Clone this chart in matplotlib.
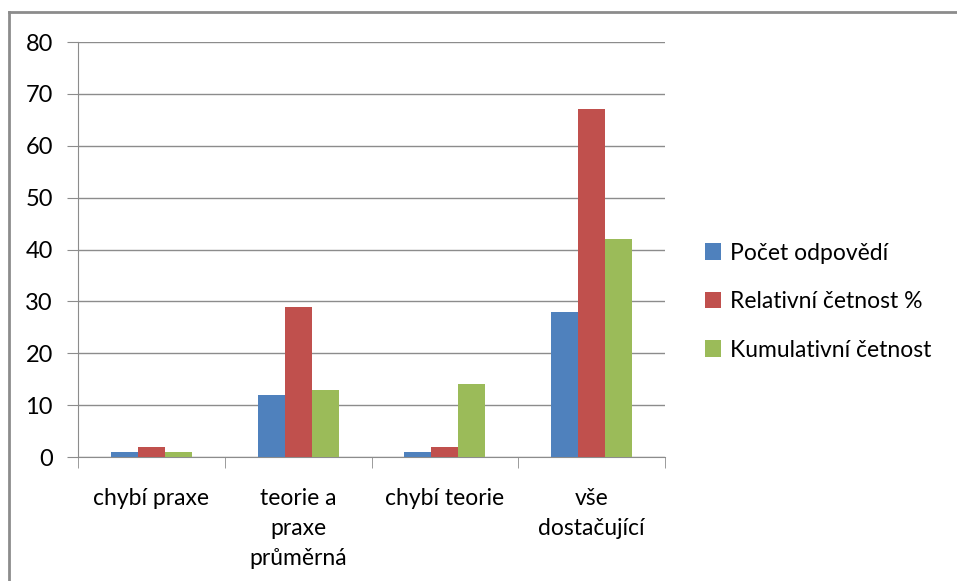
import matplotlib.pyplot as plt
import numpy as np
from matplotlib.lines import Line2D

plt.rcParams['font.family'] = ['Lato', 'DejaVu Sans']

categories = ["chybí praxe", "teorie a\npraxe\nprůměrná", "chybí teorie", "vše\ndostačující"]
series_names = ["Počet odpovědí", "Relativní četnost %", "Kumulativní četnost"]
pocet = [1, 12, 1, 28]
relativni = [2, 29, 2, 67]
kumulativni = [1, 13, 14, 42]
colors = ["#4F81BD", "#C0504D", "#9BBB59"]

fig = plt.figure(figsize=(9.57, 5.81), dpi=100)
# outer border (only top and left are visible in the original crop)
fig.lines.append(Line2D([9 / 957, 9 / 957], [0, 1 - 12 / 581], transform=fig.transFigure,
                        color="#8c8c8c", linewidth=2))
fig.lines.append(Line2D([9 / 957, 1], [1 - 12 / 581, 1 - 12 / 581], transform=fig.transFigure,
                        color="#8c8c8c", linewidth=2))
ax = fig.add_axes([0.0815, 0.2134, 0.6135, 0.7143])

x = np.arange(len(categories))
w = 0.184
for i, (vals, name) in enumerate(zip([pocet, relativni, kumulativni], series_names)):
    ax.bar(x + (i - 1) * w, vals, width=w, color=colors[i], label=name, zorder=3)

ax.set_xlim(-0.5, len(categories) - 0.5)
ax.set_ylim(0, 80)
ax.set_yticks(range(0, 81, 10))
ax.yaxis.grid(True, color="#8c8c8c", linewidth=1, zorder=0)
for s in ["top", "right"]:
    ax.spines[s].set_visible(False)
for s in ["left", "bottom"]:
    ax.spines[s].set_color("#8c8c8c")

ax.set_xticks(x)
ax.set_xticklabels(categories, fontsize=16.5, linespacing=1.55, va="top")
ax.tick_params(axis="x", length=0, pad=22)
ax.set_xticks(np.arange(-0.5, len(categories), 1), minor=True)
ax.tick_params(axis="x", which="minor", length=8, color="#8c8c8c")
ax.tick_params(axis="y", length=8, color="#8c8c8c", labelsize=17, pad=10)

fig.legend(loc="center left", bbox_to_anchor=(705 / 957, 0.481), frameon=False,
           fontsize=16.5, handlelength=0.7, handleheight=0.7, handletextpad=0.4,
           labelspacing=1.2, borderaxespad=0, borderpad=0)

fig.savefig("out.png", dpi=100)
